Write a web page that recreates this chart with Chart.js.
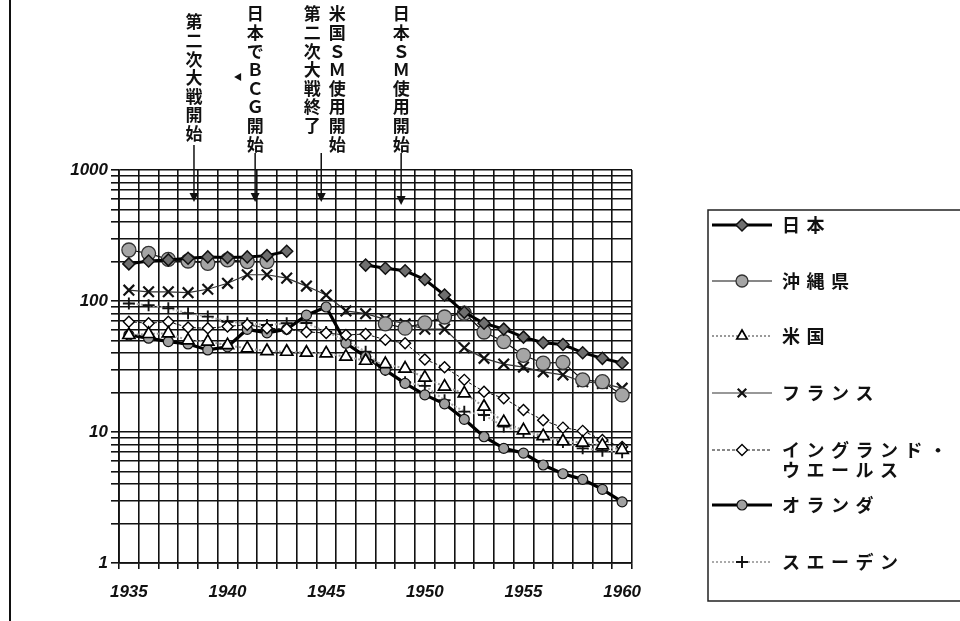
<!DOCTYPE html>
<html lang="ja">
<head>
<meta charset="utf-8">
<title>結核死亡率の推移</title>
<script src="https://cdn.jsdelivr.net/npm/chart.js@4.4.0/dist/chart.umd.min.js"></script>
<style>
    html, body { margin: 0; padding: 0; background: #fff; }
    canvas { display: block; }
</style>
</head>
<body>
<canvas id="tbChart" width="960" height="621"></canvas>
<script>
// categories
var years = ['1935', '1936', '1937', '1938', '1939', '1940', '1941', '1942', '1943', '1944',
    '1945', '1946', '1947', '1948', '1949', '1950', '1951', '1952', '1953', '1954',
    '1955', '1956', '1957', '1958', '1959', '1960'];

// series
var japan = [192, 202, 206, 212, 217, 215, 217, 222, 240, null, null, null, 188, 178, 170, 146, 111, 82, 67.6, 61, 53, 48, 46.5, 40.3, 36.5, 33.6];
var okinawa = [245, 231, 208, 202, 194, 206, 200, 200, null, null, null, null, null, 67, 62, 68, 75.5, 80.6, 58, 49, 38.5, 33.5, 34, 25, 24.2, 19.2];
var usa = [55, 56, 56.6, 50, 49, 46, 43.5, 41.5, 41, 40.3, 39.8, 37.6, 35, 33, 30.5, 26, 22.2, 19.7, 15.6, 11.9, 10.3, 9.3, 8.5, 8.3, 7.9, 7.3];
var france = [121, 117.6, 117.6, 115.8, 123, 136.5, 158.6, 158.6, 149.5, 130, 111, 84, 80, 72.5, 67, 61, 61, 44, 36.5, 33, 31.3, 28.8, 27.3, 24.2, 23.5, 21.6];
var england = [69.5, 67.6, 69.5, 62.8, 61.9, 64, 66, 62, 61, 58, 57, 55, 56, 50.5, 47.6, 35.8, 31.2, 25, 20.3, 18.1, 14.7, 12.3, 10.8, 10.2, 8.7, 7.7];
var netherlands = [55, 52, 49, 47, 42.3, 44.7, 60.8, 57.2, 60.8, 78, 90, 47.6, 37.6, 29.7, 23.5, 19.2, 16.4, 12.5, 9.2, 7.5, 6.9, 5.6, 4.8, 4.35, 3.65, 2.93];
var sweden = [95.6, 93, 88, 80.6, 76, 69.5, 67.6, 65.6, 67.6, 68, 58, 50, 41, 29.7, 24, 22.5, 17.5, 14.3, 13.5, 11, 10, 9.2, 8.4, 7.5, 7.2, 7.0];

// tick values / labels
var yTicks = [1, 2, 3, 4, 5, 6, 7, 8, 9, 10, 20, 30, 40, 50, 60, 70, 80, 90,
    100, 200, 300, 400, 500, 600, 700, 800, 900, 1000];
var yTickLabels = [1, 10, 100, 1000];
var seriesNames = ['日本', '沖縄県', '米国', 'フランス', 'イングランド・\nウエールス', 'オランダ', 'スエーデン'];

// events marked at the top
var eventLabels = ['第二次大戦開始', '日本でＢＣＧ開始', '第二次大戦終了', '米国ＳＭ使用開始', '日本ＳＭ使用開始'];
var eventYears = [1938.3, 1941.4, 1944.75, 1948.8];

(function () {
    var CJK = '"Noto Sans CJK JP", "Noto Sans CJK SC", sans-serif';
    var NUM = '"Liberation Sans", Arial, sans-serif';

    var styles = [
        { borderColor: '#000', borderWidth: 3, pointStyle: 'rectRot', pointRadius: 6, pointBackgroundColor: '#6f6f6f', pointBorderColor: '#111', pointBorderWidth: 1.5 },
        { borderColor: '#111', borderWidth: 1.2, pointStyle: 'circle', pointRadius: 7, pointBackgroundColor: '#a5a5a5', pointBorderColor: '#333', pointBorderWidth: 1.3 },
        { borderColor: '#999', borderWidth: 2, borderDash: [2, 2], pointStyle: 'triangle', pointRadius: 7, pointBackgroundColor: '#fff', pointBorderColor: '#000', pointBorderWidth: 1.7 },
        { borderColor: '#333', borderWidth: 1.2, pointStyle: 'crossRot', pointRadius: 7.5, pointBackgroundColor: '#000', pointBorderColor: '#111', pointBorderWidth: 2.2 },
        { borderColor: '#111', borderWidth: 1, borderDash: [3, 2], pointStyle: 'rectRot', pointRadius: 5.5, pointBackgroundColor: '#fff', pointBorderColor: '#000', pointBorderWidth: 1.4 },
        { borderColor: '#000', borderWidth: 3.2, pointStyle: 'circle', pointRadius: 5, pointBackgroundColor: '#a0a0a0', pointBorderColor: '#111', pointBorderWidth: 1.2 },
        { borderColor: '#aaa', borderWidth: 2, borderDash: [2, 2], pointStyle: 'cross', pointRadius: 6, pointBackgroundColor: '#000', pointBorderColor: '#111', pointBorderWidth: 1.9 }
    ];
    var seriesData = [japan, okinawa, usa, france, england, netherlands, sweden];

    var datasets = seriesData.map(function (values, i) {
        var ds = Object.assign({ label: seriesNames[i], data: values, spanGaps: false, tension: 0 }, styles[i]);
        ds.pointHoverRadius = ds.pointRadius;
        return ds;
    });

    var whiteBackground = {
        id: 'whiteBackground',
        beforeDraw: function (chart) {
            var ctx = chart.ctx;
            ctx.save();
            ctx.fillStyle = '#fff';
            ctx.fillRect(0, 0, chart.width, chart.height);
            // left frame line of the figure
            ctx.strokeStyle = '#111';
            ctx.lineWidth = 2;
            ctx.beginPath();
            ctx.moveTo(10, 0);
            ctx.lineTo(10, chart.height);
            ctx.stroke();
            ctx.restore();
        }
    };

    function drawVertical(ctx, text, x, top, step) {
        Array.from(text).forEach(function (ch, i) {
            ctx.fillText(ch, x, top + i * step);
        });
    }

    function arrowDown(ctx, x, y0, y1) {
        ctx.beginPath();
        ctx.moveTo(x, y0);
        ctx.lineTo(x, y1 - 6);
        ctx.stroke();
        ctx.beginPath();
        ctx.moveTo(x - 4.5, y1 - 9);
        ctx.lineTo(x + 4.5, y1 - 9);
        ctx.lineTo(x, y1);
        ctx.closePath();
        ctx.fill();
    }

    var eventNotes = {
        id: 'eventNotes',
        afterDraw: function (chart) {
            var ctx = chart.ctx;
            var xs = chart.scales.x;
            var px = eventYears.map(function (y) { return xs.getPixelForValue(y - 1935); });
            ctx.save();
            ctx.fillStyle = '#111';
            ctx.strokeStyle = '#111';
            ctx.lineWidth = 1.5;
            ctx.font = 'bold 17px ' + CJK;
            ctx.textAlign = 'center';
            ctx.textBaseline = 'middle';
            drawVertical(ctx, eventLabels[0], px[0], 22, 18.6);
            drawVertical(ctx, eventLabels[1], px[1], 14, 18.6);
            drawVertical(ctx, eventLabels[2], px[2] - 9, 14, 18.6);
            drawVertical(ctx, eventLabels[3], px[2] + 16, 14, 18.6);
            drawVertical(ctx, eventLabels[4], px[3], 14, 18.6);

            arrowDown(ctx, px[0], 145, 202);
            arrowDown(ctx, px[1], 153, 202);
            arrowDown(ctx, px[2], 153, 202);
            arrowDown(ctx, px[3], 153, 205);

            // small stray mark next to the BCG note
            ctx.beginPath();
            ctx.moveTo(px[1] - 21, 77);
            ctx.lineTo(px[1] - 14, 73);
            ctx.lineTo(px[1] - 14, 81);
            ctx.closePath();
            ctx.fill();
            ctx.restore();
        }
    };

    var sideLegend = {
        id: 'sideLegend',
        afterDraw: function (chart) {
            var ctx = chart.ctx;
            var rows = [225, 281, 336, 393, 450, 505, 562];
            ctx.save();
            ctx.strokeStyle = '#222';
            ctx.lineWidth = 1.5;
            ctx.beginPath();
            ctx.moveTo(chart.width, 210);
            ctx.lineTo(708, 210);
            ctx.lineTo(708, 601);
            ctx.lineTo(chart.width, 601);
            ctx.stroke();

            chart.data.datasets.forEach(function (ds, i) {
                var y = rows[i];
                ctx.save();
                ctx.strokeStyle = ds.borderColor;
                ctx.lineWidth = ds.borderWidth;
                ctx.setLineDash(ds.borderDash || []);
                ctx.beginPath();
                ctx.moveTo(712, y);
                ctx.lineTo(772, y);
                ctx.stroke();
                ctx.setLineDash([]);
                ctx.fillStyle = ds.pointBackgroundColor;
                ctx.strokeStyle = ds.pointBorderColor;
                ctx.lineWidth = ds.pointBorderWidth;
                Chart.helpers.drawPoint(ctx, {
                    pointStyle: ds.pointStyle,
                    radius: Math.min(ds.pointRadius, 6),
                    rotation: 0,
                    borderWidth: ds.pointBorderWidth
                }, 742, y);
                ctx.restore();

                ctx.fillStyle = '#111';
                ctx.font = 'bold 18px ' + CJK;
                ctx.textAlign = 'left';
                ctx.textBaseline = 'middle';
                String(ds.label).split('\n').forEach(function (line, li) {
                    Array.from(line).forEach(function (ch, ci) {
                        ctx.fillText(ch, 782 + ci * 24.5, y + li * 20);
                    });
                });
            });
            ctx.restore();
        }
    };

    new Chart(document.getElementById('tbChart').getContext('2d'), {
        type: 'line',
        data: { labels: years, datasets: datasets },
        plugins: [whiteBackground, eventNotes, sideLegend],
        options: {
            responsive: false,
            animation: false,
            layout: { padding: { left: 0, top: 170, right: 328, bottom: 0 } },
            plugins: {
                legend: { display: false },
                tooltip: { enabled: false }
            },
            scales: {
                x: {
                    type: 'category',
                    offset: true,
                    afterFit: function (scale) { scale.height = 58; },
                    grid: { offset: true, color: '#111', lineWidth: 1.6, tickLength: 6, drawTicks: true },
                    border: { color: '#111', width: 1.8 },
                    ticks: {
                        autoSkip: false,
                        maxRotation: 0,
                        padding: 13,
                        color: '#111',
                        font: { family: NUM, size: 17, style: 'italic', weight: 'bold' },
                        callback: function (value, index) {
                            var y = years[index];
                            return Number(y) % 5 === 0 ? y : '';
                        }
                    }
                },
                y: {
                    type: 'logarithmic',
                    min: 1,
                    max: 1000,
                    afterFit: function (scale) { scale.width = 119; },
                    afterBuildTicks: function (scale) {
                        scale.ticks = yTicks.map(function (v) { return { value: v }; });
                    },
                    grid: { color: '#111', lineWidth: 1.6, tickLength: 8, drawTicks: true },
                    border: { color: '#111', width: 1.8 },
                    ticks: {
                        autoSkip: false,
                        padding: 3,
                        color: '#111',
                        font: { family: NUM, size: 17, style: 'italic', weight: 'bold' },
                        callback: function (value) {
                            return yTickLabels.indexOf(value) >= 0 ? String(value) : '';
                        }
                    }
                }
            }
        }
    });
})();
</script>
</body>
</html>
